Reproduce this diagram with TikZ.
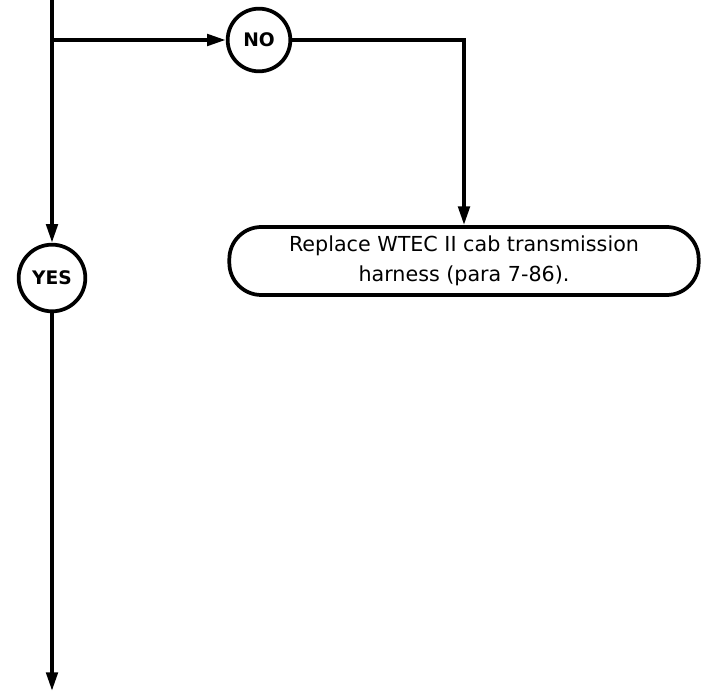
\documentclass[tikz,border=0pt]{standalone}
\usepackage{fontspec}
\setmainfont{DejaVu Sans}
\usepackage{tikz}
\usetikzlibrary{arrows.meta,positioning}

\begin{document}
\begin{tikzpicture}[
  x=0.75pt, y=-0.75pt,
  decision/.style={draw, circle, line width=2.8pt, minimum size=47pt, inner sep=0pt, font=\fontsize{14}{16}\selectfont\bfseries},
  action/.style={draw, rounded corners=24pt, line width=2.8pt, minimum width=352pt, minimum height=51pt, align=center, font=\fontsize{15.5}{22.5}\selectfont},
  line/.style={line width=2.8pt},
  arrow/.style={line, -{Triangle[length=14pt,width=8.5pt]}}
]
\useasboundingbox (0,0) rectangle (703,691);

\coordinate (top) at (52,0);
\coordinate (split) at (52,40);
\coordinate (bottom) at (52,691);
\node[decision] (no) at (259,40) {NO};
\node[action] (replace) at (464,261) {Replace WTEC II cab transmission\\harness (para 7-86).};
\node[decision, minimum size=50pt] (yes) at (52,278) {YES};

\draw[arrow] (top) -- (yes);
\draw[arrow] (split) -- (no);
\draw[arrow] (no) -| (replace);
\draw[arrow] (yes) -- (bottom);
\end{tikzpicture}
\end{document}
